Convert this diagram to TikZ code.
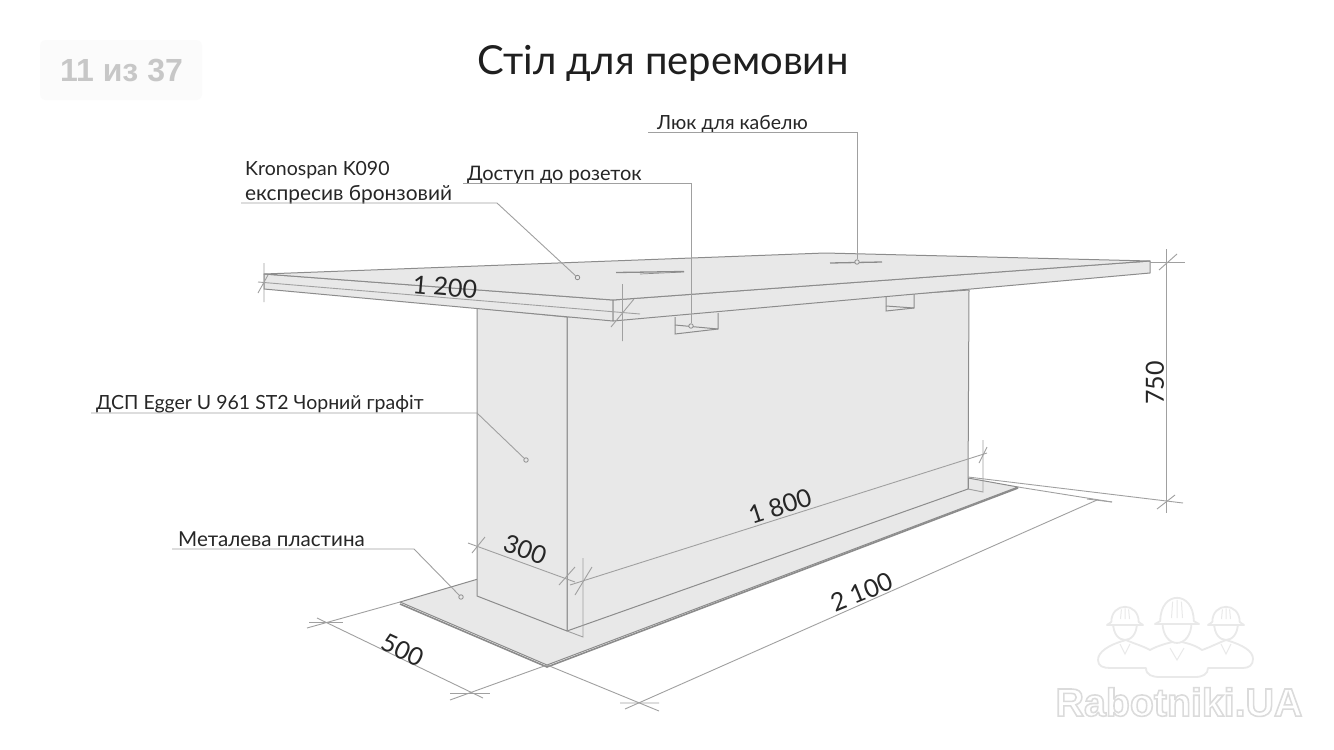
\documentclass[tikz,border=0pt]{standalone}
\usepackage{fontspec}
\setmainfont{Lato}
\newfontfamily\uifont{Liberation Sans}
\newfontfamily\wmfont[FakeBold=4]{Liberation Sans Bold}
\definecolor{face}{HTML}{E8E8E8}
\definecolor{edge}{HTML}{8C8C8C}
\definecolor{dimc}{HTML}{A0A0A0}
\definecolor{wm}{HTML}{E9E9E9}
\tikzset{
  facefill/.style={fill=face,draw=edge,line width=1pt,line join=round},
  edgeline/.style={draw=edge,line width=1pt},
  dimline/.style={draw=dimc,line width=0.9pt},
  leader/.style={draw=dimc,line width=0.9pt},
  dot/.style={circle,draw=edge,fill=face,line width=0.8pt,inner sep=0pt,minimum size=4.5pt},
  lab/.style={font=\fontsize{19.5}{22}\selectfont,text=black!85,inner sep=0pt,anchor=base west},
  dimtext/.style={font=\fontsize{25}{28}\selectfont,text=black!85,inner sep=0pt},
  wmline/.style={draw=wm,line width=1.8pt,fill=white,line join=round},
}
\newcommand{\helmet}[5]{% cx, brim y, half width, dome height, face height
  \begin{scope}[shift={(#1,#2)}]
    \draw[wmline] (-#3*0.66,0) .. controls (-#3*0.66,#5*1.33) and (#3*0.66,#5*1.33) .. (#3*0.66,0) -- cycle;
    \draw[wmline] (-#3*0.76,-1) .. controls (-#3*0.76,-#4*1.33) and (#3*0.76,-#4*1.33) .. (#3*0.76,-1) -- (#3,2) -- (-#3,2) -- cycle;
    \draw[wm,line width=1pt] (-#3*0.2,-#4*0.85) -- (-#3*0.25,-4) (#3*0.2,-#4*0.85) -- (#3*0.25,-4) (0,-#4*0.92)--(0,-4);
  \end{scope}}
\begin{document}
\begin{tikzpicture}[x=1pt,y=-1pt]
\useasboundingbox[fill=white] (0,0) rectangle (1334,750);

% page counter
\fill[black!1.5,rounded corners=6pt] (40,40) rectangle (202,100);
\node[font=\uifont\bfseries\fontsize{32}{34}\selectfont,text=black!22,inner sep=0pt] (counter) at (121.5,71) {11 из 37};

% title
\node[font=\fontsize{40}{44}\selectfont,text=black!88,inner sep=0pt] (title) at (663,63) {Стіл для перемовин};

% base plate
\draw[facefill] (478,579) -- (400,602) -- (547,665) -- (1018,487) -- (968,478) -- cycle;
\draw[edgeline,line width=1.6pt] (400,604) -- (547,667) -- (1018,488);

% leg: right face and left face
\draw[facefill] (567,317) -- (969,290) -- (968,489) -- (567,631) -- cycle;
\draw[facefill] (477,308) -- (567,317) -- (567,631) -- (477,596) -- cycle;
\draw[edgeline] (968,478) -- (968,489);

% notches in the leg
\draw[edgeline] (675,317) -- (675,334) -- (718,329) -- (718,313);
\draw[edgeline] (675,325) -- (718,329);
\draw[edgeline] (886,297) -- (886,311) -- (914,308) -- (914,294);
\draw[edgeline] (886,306) -- (914,308);

% table top
\draw[facefill] (264,274) -- (613,300) -- (613,321) -- (264,289) -- cycle;
\draw[facefill] (613,300) -- (1150,261) -- (1150,273) -- (613,321) -- cycle;
\draw[facefill] (264,274) -- (825,253) -- (1150,261) -- (613,300) -- cycle;

% slots
\draw[edgeline,line width=1.3pt] (616,272.5) -- (684,271.5);
\draw[edgeline,line width=0.7pt] (640,274) -- (684,272);
\draw[edgeline,line width=1.3pt] (830,263) -- (882,262);

% dimension 1200
\draw[dimline] (258,282) -- (640,314);
\draw[dimline] (264,263) -- (264,302) (258,293) -- (268,275);
\draw[dimline] (622.5,284) -- (622.5,341) (611,327) -- (634,299);
\node[dimtext,rotate=-5] (d1200) at (445,287) {1 200};

% dimension 300
\draw[dimline] (468,543) -- (575,582);
\draw[dimline] (472,553) -- (485,537) (559,585) -- (575,567);
\node[dimtext,rotate=-20] (d300) at (525,550) {300};

% dimension 1800
\draw[dimline] (570,585) -- (987,453);
\draw[dimline] (583,558) -- (583,637) -- (567,631);
\draw[dimline] (575,595) -- (592,567);
\draw[dimline] (983,440) -- (983,492) -- (968,489);
\draw[dimline] (979,463) -- (987,447);
\node[dimtext,rotate=18] (d1800) at (780,506) {1 800};

% dimension 500
\draw[dimline] (400,602) -- (307,628);
\draw[dimline] (547,665) -- (450,700);
\draw[dimline] (317,618) -- (483,698);
\draw[dimline] (309,622) -- (343,622) (450,693) -- (490,693);
\node[dimtext,rotate=-25] (d500) at (403,650) {500};

% dimension 2100
\draw[dimline] (547,665) -- (659,711);
\draw[dimline] (1018,487) -- (1112,502);
\draw[dimline] (625,709) -- (1097,500);
\draw[dimline] (620,703) -- (659,703) (1087,499) -- (1112,502);
\node[dimtext,rotate=22] (d2100) at (862,592) {2 100};

% dimension 750
\draw[dimline] (1150,262) -- (1185,262);
\draw[dimline] (968,477) -- (1183,503);
\draw[dimline] (1166.5,249) -- (1166.5,513);
\draw[dimline] (1159,270) -- (1177,254) (1157,509) -- (1175,495);
\node[dimtext,rotate=90] (d750) at (1155,383) {750};

% leaders and labels
\node[lab] (lcable) at (657,129) {Люк для кабелю};
\node[dot] (pcable) at (857,262) {};
\draw[leader] (648,132) -- (857,132) -- (pcable);

\node[lab] (lkrono1) at (245,175) {Kronospan K090};
\node[lab,font=\fontsize{20.9}{22}\selectfont] (lkrono2) at (245,200) {експресив бронзовий};
\node[dot] (pkrono) at (577.5,277.5) {};
\draw[leader] (241,203) -- (497,203) -- (pkrono);

\node[lab,font=\fontsize{20}{22}\selectfont] (lsocket) at (467,180) {Доступ до розеток};
\node[dot] (psocket) at (691,326) {};
\draw[leader] (463,183) -- (691,183) -- (psocket);

\node[lab] (ldsp) at (96,409) {ДСП Egger U 961 ST2 Чорний графіт};
\node[dot] (pdsp) at (526,460) {};
\draw[leader] (91,413) -- (477,413) -- (pdsp);

\node[lab,font=\fontsize{20.6}{22}\selectfont] (lmetal) at (178,546) {Металева пластина};
\node[dot] (pmetal) at (461,597) {};
\draw[leader] (172,549) -- (414,549) -- (pmetal);

% watermark: three workers
\draw[wmline] (1126,640) .. controls (1108,645) and (1098,652) .. (1098,660) .. controls (1098,666) and (1103,668) .. (1110,668) -- (1146,668) .. controls (1146,675) and (1152,677) .. (1160,677) -- (1195,677) .. controls (1203,677) and (1208,674) .. (1208,668) -- (1243,668) .. controls (1249,668) and (1253,665) .. (1253,659) .. controls (1253,651) and (1243,645) .. (1226,640) .. controls (1216,644) and (1208,648) .. (1202,650) .. controls (1195,645) and (1187,643) .. (1177,641) .. controls (1167,643) and (1157,646) .. (1150,650) .. controls (1143,646) and (1135,644) .. (1126,640) -- cycle;
\draw[wm,line width=1pt] (1120,644) -- (1125,654) -- (1130,644) (1221,644) -- (1226,654) -- (1231,644) (1170,648) -- (1177,660) -- (1184,648);
\helmet{1125}{623}{18}{16}{17}
\helmet{1226}{623}{18}{16}{17}
\helmet{1177}{622}{22}{24}{21}

% watermark text
\node[font=\wmfont\fontsize{39.3}{41}\selectfont,text=black!13,inner sep=0pt] (wmtext) at (1179,702) {\special{pdf:bcolor [1] [0.86]}Rabotniki.UA\special{pdf:ecolor}};
\end{tikzpicture}
\end{document}
